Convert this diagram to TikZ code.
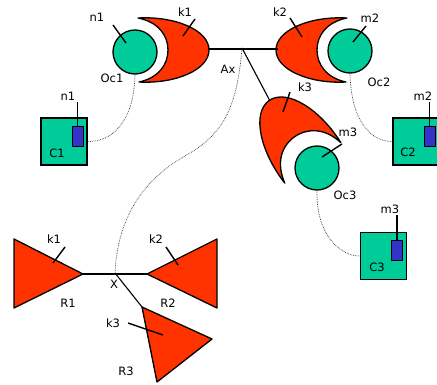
\documentclass[tikz,border=0pt]{standalone}
\usepackage{fontspec}
\setmainfont{DejaVu Sans}
\definecolor{ocgreen}{RGB}{0,204,153}
\definecolor{kred}{RGB}{255,51,0}
\definecolor{chipblue}{RGB}{51,51,204}
\begin{document}
\begin{tikzpicture}[x=1pt,y=-1pt,
  occ/.style={circle, draw, fill=ocgreen, line width=1.3pt, minimum size=44pt, inner sep=0pt},
  cbox/.style={draw, fill=ocgreen, line width=1.3pt, minimum width=46pt, minimum height=47pt, inner sep=0pt},
  chip/.style={draw, fill=chipblue, line width=1pt, minimum width=11pt, minimum height=20pt, inner sep=0pt},
  lbl/.style={font=\fontsize{11.5}{13}\selectfont, inner sep=0pt},
  tick/.style={line width=1.4pt},
  link/.style={line width=1.1pt},
  wire/.style={densely dotted, line width=0.7pt, black!80},
  kshape/.style={draw, fill=kred, line width=1.3pt, line join=round}]
\useasboundingbox (0,0) rectangle (437,385);
\clip (0,0) rectangle (437,385);
\def\crescent{(3,-32) .. controls (40,-34) and (74,-20) .. (74,0) .. controls (74,20) and (40,34) .. (4,32) .. controls (23,28) and (33,15) .. (33,0) .. controls (33,-15) and (23,-28) .. (3,-32) -- cycle}
% crescents
\begin{scope}[shift={(135,50)}]
  \draw[kshape] \crescent;
\end{scope}
\begin{scope}[shift={(350,50)}, xscale=-1]
  \draw[kshape] \crescent;
\end{scope}
\begin{scope}[shift={(315,166)}, rotate=125, scale=1.08]
  \draw[kshape] \crescent;
\end{scope}
% circles
\node[occ] (oc1) at (135,52) {};
\node[occ] (oc2) at (350,51) {};
\node[occ] (oc3) at (317,168) {};
% boxes
\node[cbox] (c1) at (64,141.5) {};
\node[chip] (ch1) at (77.5,137) {};
\node[cbox] (c2) at (416,141.5) {};
\node[chip] (ch2) at (429.5,137) {};
\node[cbox] (c3) at (383.5,256) {};
\node[chip] (ch3) at (397,251) {};
% junction coordinates
\coordinate (k1b) at (209,49);
\coordinate (k2b) at (278,49);
\coordinate (ax) at (242,48);
\coordinate (k3b) at (270,101);
\draw[link] (k1b) -- (k2b);
\draw[link] (ax) -- (k3b);
% bottom triangles
\coordinate (r1t) at (83,274);
\coordinate (r2t) at (147,274);
\coordinate (r3t) at (142,307);
\coordinate (x) at (115,273);
\draw[kshape] (14,239) -- (14,308) -- (r1t) -- cycle;
\draw[kshape] (r2t) -- (217,239) -- (217,308) -- cycle;
\draw[kshape] (r3t) -- (212,339) -- (157,382) -- cycle;
\draw[link] (r1t) -- (r2t);
\draw[link] (x) -- (r3t);
% dotted wires
\draw[wire] (oc1.south) .. controls (134,122) and (112,142) .. (c1.east);
\draw[wire] (oc2.south) .. controls (351,122) and (372,142) .. (c2.west);
\draw[wire] (oc3.south) .. controls (316,235) and (340,256) .. (c3.west);
\draw[wire] (ax) .. controls (237,110) and (222,135) .. (185,156) .. controls (150,176) and (118,210) .. (x);
% chip leads
\draw[tick] (ch1.north) -- ++(0,-24) coordinate (ch1t);
\draw[tick] (ch2.north) -- ++(0,-24) coordinate (ch2t);
\draw[tick] (ch3.north) -- ++(0,-25) coordinate (ch3t);
% label ticks
\draw[tick] (113,25) -- (126,43);
\draw[tick] (195,19) -- (183,36);
\draw[tick] (290,18) -- (302,37);
\draw[tick] (366,26) -- (353,42);
\draw[tick] (290,92) -- (283,112);
\draw[tick] (342,144) -- (322,157);
\draw[tick] (65,247) -- (53,263);
\draw[tick] (166,247) -- (178,265);
\draw[tick] (128,323) -- (163,335);
% labels
\node[lbl] (ln1) at (97,17) {n1};
\node[lbl] (loc1) at (112,78) {Oc1};
\node[lbl] (lk1) at (185,12) {k1};
\node[lbl] (lax) at (228,69) {Ax};
\node[lbl] (lk2) at (280,12) {k2};
\node[lbl] (lm2) at (370,18) {m2};
\node[lbl] (loc2) at (379,82) {Oc2};
\node[lbl] (lk3) at (305,87) {k3};
\node[lbl] (lm3) at (348,132) {m3};
\node[lbl] (loc3) at (345,195) {Oc3};
\node[lbl] (ln1b) at (68,96) {n1};
\node[lbl] (lc1) at (57,153) {C1};
\node[lbl] (lm2b) at (423,96) {m2};
\node[lbl] (lc2) at (408,152) {C2};
\node[lbl] (lm3b) at (390,209) {m3};
\node[lbl] (lc3) at (377,267) {C3};
\node[lbl] (lk1b) at (54,239) {k1};
\node[lbl] (lr1) at (68,303) {R1};
\node[lbl] (lk2b) at (156,239) {k2};
\node[lbl] (lr2) at (168,303) {R2};
\node[lbl] (lx) at (114,284) {X};
\node[lbl] (lk3b) at (113,323) {k3};
\node[lbl] (lr3) at (126,371) {R3};
\end{tikzpicture}
\end{document}
